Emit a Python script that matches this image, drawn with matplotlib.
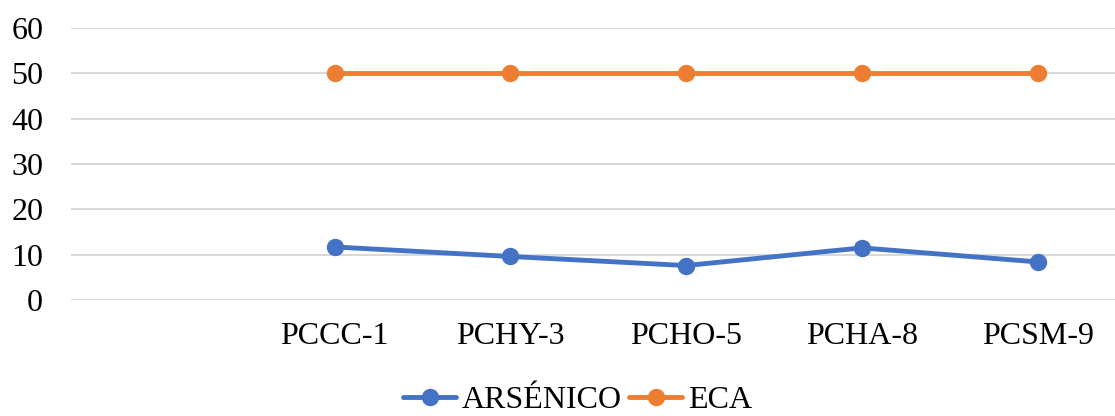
import matplotlib
matplotlib.use("Agg")
import matplotlib.pyplot as plt
import numpy as np

categories = ["", "PCCC-1", "PCHY-3", "PCHO-5", "PCHA-8", "PCSM-9"]
arsenico = [np.nan, 11.7, 9.6, 7.6, 11.5, 8.4]
eca = [np.nan, 50, 50, 50, 50, 50]
yticks = [0, 10, 20, 30, 40, 50, 60]

plt.rcParams['font.family'] = ['Liberation Serif', 'DejaVu Serif']
fs = 23

fig = plt.figure(figsize=(11.15, 4.16), dpi=100)
ax = fig.add_axes([71/1115, 116/416, (1125.5-71)/1115, 272/416])

x = np.arange(len(categories))
ax.plot(x, arsenico, color="#4472C4", lw=3.5, marker="o", ms=11.5, label="ARSÉNICO",
        solid_joinstyle="round", solid_capstyle="round")
ax.plot(x, eca, color="#ED7D31", lw=3.5, marker="o", ms=11.5, label="ECA",
        solid_joinstyle="round", solid_capstyle="round")

ax.set_xlim(-0.5, len(categories) - 0.5)
ax.set_ylim(0, 60)
ax.set_yticks(yticks)
ax.set_xticks(x)
ax.set_xticklabels(categories)
ax.tick_params(axis="both", length=0, labelsize=fs, colors="black")
ax.tick_params(axis="y", pad=20)
ax.tick_params(axis="x", pad=16)
ax.grid(axis="y", color="#D9D9D9", lw=1.5)
ax.set_axisbelow(True)
for s in ax.spines.values():
    s.set_visible(False)

fig.legend(loc="center", bbox_to_anchor=(577.5/1115, 16/416), ncol=2, frameon=False,
           fontsize=fs, handlelength=1.65, handletextpad=0.17, columnspacing=0.25,
           borderpad=0, borderaxespad=0)

fig.savefig("out.png", dpi=100)
